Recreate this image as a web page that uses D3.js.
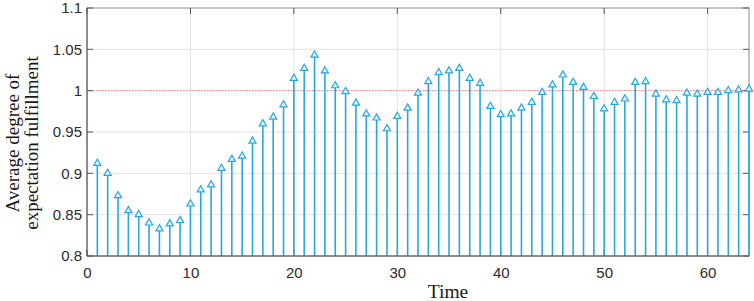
<!DOCTYPE html>
<html>
<head>
<meta charset="utf-8">
<script src="https://cdn.jsdelivr.net/npm/d3@7"></script>
<style>
  body { margin: 0; background: #fff; }
  svg { display: block; }
</style>
</head>
<body>
<div id="chart"></div>
<script>
var width = 754;
var height = 301;
var padding = {top: 8, bottom: 45, left: 87, right: 5};

var times = d3.range(1, 65);
var fulfillment = [
  0.912, 0.900, 0.873, 0.855, 0.850, 0.840, 0.833, 0.839, 0.843, 0.863,
  0.880, 0.886, 0.906, 0.917, 0.921, 0.939, 0.960, 0.968, 0.983, 1.015,
  1.027, 1.043, 1.024, 1.006, 0.999, 0.985, 0.972, 0.967, 0.954, 0.969,
  0.979, 0.997, 1.011, 1.022, 1.024, 1.027, 1.015, 1.009, 0.981, 0.971,
  0.972, 0.979, 0.986, 0.998, 1.007, 1.019, 1.010, 1.004, 0.993, 0.978,
  0.986, 0.990, 1.010, 1.011, 0.996, 0.989, 0.988, 0.997, 0.996, 0.998,
  0.998, 1.000, 1.001, 1.002
];
var x_ticks = [0, 10, 20, 30, 40, 50, 60];
var y_ticks = [0.8, 0.85, 0.9, 0.95, 1, 1.05, 1.1];
var target = 1;

var data = times.map(function(t, i){ return {x: t, y: fulfillment[i]}; });

var x_scale = d3.scaleLinear()
    .domain([0, 64])
    .range([padding.left, width - padding.right]);
var y_scale = d3.scaleLinear()
    .domain([0.8, 1.1])
    .range([height - padding.bottom, padding.top]);

var svg = d3.select("#chart")
    .append("svg")
    .attr("width", width)
    .attr("height", height);

// grid
svg.append("g")
    .selectAll("line.vgrid")
    .data(x_ticks.filter(function(d){ return d > 0; }))
    .enter().append("line")
    .attr("x1", function(d){ return x_scale(d); })
    .attr("x2", function(d){ return x_scale(d); })
    .attr("y1", padding.top)
    .attr("y2", height - padding.bottom)
    .attr("stroke", "#e3e3e3")
    .attr("stroke-width", 1);

svg.append("g")
    .selectAll("line.hgrid")
    .data(y_ticks.filter(function(d){ return d > 0.8 && d < 1.1; }))
    .enter().append("line")
    .attr("x1", padding.left)
    .attr("x2", width - padding.right)
    .attr("y1", function(d){ return y_scale(d); })
    .attr("y2", function(d){ return y_scale(d); })
    .attr("stroke", "#e3e3e3")
    .attr("stroke-width", 1);

// reference line at 1
svg.append("line")
    .attr("x1", padding.left)
    .attr("x2", width - padding.right)
    .attr("y1", y_scale(target))
    .attr("y2", y_scale(target))
    .attr("stroke", "#f08080")
    .attr("stroke-width", 1)
    .attr("stroke-dasharray", "1.5,1.5");

// frame with inward ticks
var frame = svg.append("g").attr("fill", "none");
frame.append("rect")
    .attr("x", padding.left)
    .attr("y", padding.top)
    .attr("width", width - padding.left - padding.right)
    .attr("height", height - padding.top - padding.bottom)
    .attr("stroke", "#8a8a8a")
    .attr("stroke-width", 1);
frame.selectAll("line.xt")
    .data(x_ticks)
    .enter().append("line")
    .attr("x1", function(d){ return x_scale(d); })
    .attr("x2", function(d){ return x_scale(d); })
    .attr("y1", padding.top)
    .attr("y2", padding.top + 6)
    .attr("stroke", "#555");
frame.selectAll("line.xb")
    .data(x_ticks)
    .enter().append("line")
    .attr("x1", function(d){ return x_scale(d); })
    .attr("x2", function(d){ return x_scale(d); })
    .attr("y1", height - padding.bottom)
    .attr("y2", height - padding.bottom - 6)
    .attr("stroke", "#555");
frame.selectAll("line.yt")
    .data(y_ticks)
    .enter().append("line")
    .attr("x1", width - padding.right)
    .attr("x2", width - padding.right - 6)
    .attr("y1", function(d){ return y_scale(d); })
    .attr("y2", function(d){ return y_scale(d); })
    .attr("stroke", "#555");
frame.selectAll("line.yl")
    .data(y_ticks)
    .enter().append("line")
    .attr("x1", padding.left)
    .attr("x2", padding.left + 6)
    .attr("y1", function(d){ return y_scale(d); })
    .attr("y2", function(d){ return y_scale(d); })
    .attr("stroke", "#555");

// stems
svg.append("g")
    .selectAll("line.stem")
    .data(data)
    .enter().append("line")
    .attr("class", "stem")
    .attr("x1", function(d){ return x_scale(d.x); })
    .attr("x2", function(d){ return x_scale(d.x); })
    .attr("y1", y_scale(0.8))
    .attr("y2", function(d){ return y_scale(d.y); })
    .attr("stroke", "#27a7df")
    .attr("stroke-width", 1.6);

// markers
var tri = d3.symbol().type(d3.symbolTriangle).size(22);
svg.append("g")
    .selectAll("path.marker")
    .data(data)
    .enter().append("path")
    .attr("class", "marker")
    .attr("d", tri)
    .attr("transform", function(d){ return "translate(" + x_scale(d.x) + "," + y_scale(d.y) + ")"; })
    .attr("fill", "#e8f6fc")
    .attr("stroke", "#27a7df")
    .attr("stroke-width", 1.2);

// axis lines
svg.append("line")
    .attr("x1", padding.left)
    .attr("x2", width - padding.right)
    .attr("y1", height - padding.bottom)
    .attr("y2", height - padding.bottom)
    .attr("stroke", "#555");
svg.append("line")
    .attr("x1", padding.left)
    .attr("x2", padding.left)
    .attr("y1", padding.top)
    .attr("y2", height - padding.bottom)
    .attr("stroke", "#555");

// axes
var x_axis = d3.axisBottom(x_scale).tickValues(x_ticks).tickSize(0).tickPadding(11)
    .tickFormat(d3.format("d"));
var y_axis = d3.axisLeft(y_scale).tickValues(y_ticks).tickSize(0).tickPadding(5)
    .tickFormat(function(d){ return String(+d.toFixed(2)); });

var gx = svg.append("g")
    .attr("transform", "translate(0," + (height - padding.bottom) + ")")
    .call(x_axis);
var gy = svg.append("g")
    .attr("transform", "translate(" + padding.left + ",0)")
    .call(y_axis);

[gx, gy].forEach(function(g){
    g.select(".domain").remove();
    g.selectAll("text")
        .attr("font-family", "Liberation Sans, Arial, sans-serif")
        .attr("font-size", "15px")
        .attr("fill", "#2b2b2b");
});

// labels
svg.append("text")
    .attr("x", 448)
    .attr("y", 298)
    .attr("text-anchor", "middle")
    .attr("font-family", "Liberation Serif, Times New Roman, serif")
    .attr("font-size", "19.5px")
    .attr("fill", "#1a1a1a")
    .text("Time");

var ylab = svg.append("text")
    .attr("transform", "translate(0,143) rotate(-90)")
    .attr("text-anchor", "middle")
    .attr("font-family", "Liberation Serif, Times New Roman, serif")
    .attr("font-size", "19px")
    .attr("fill", "#1a1a1a");
ylab.append("tspan").attr("x", 0).attr("y", 18.5).text("Average degree of");
ylab.append("tspan").attr("x", 0).attr("y", 37.5).text("expectation fulfillment");
</script>
</body>
</html>
